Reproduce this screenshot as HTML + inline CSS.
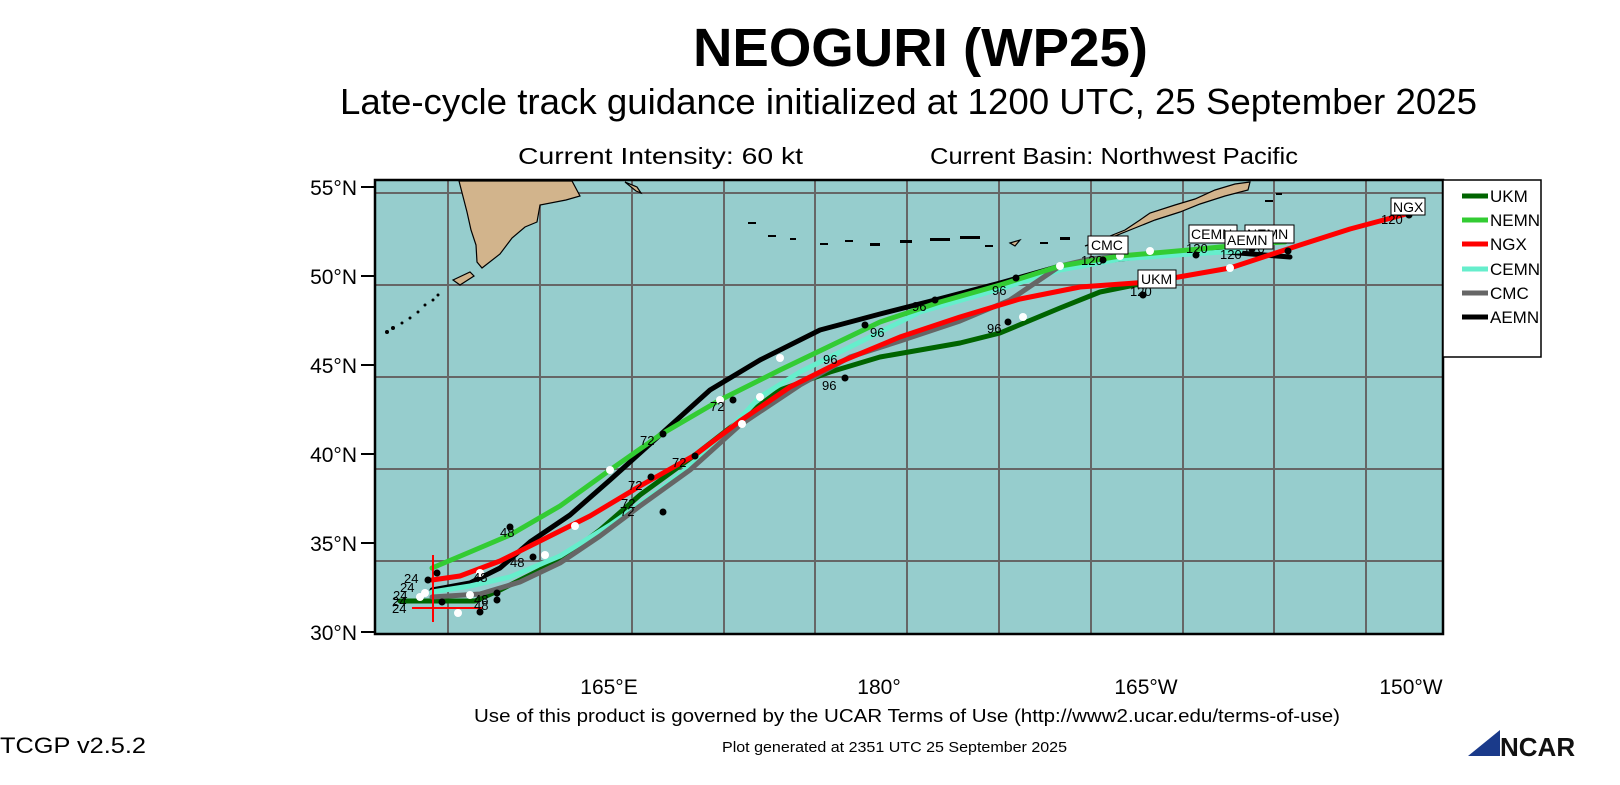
<!DOCTYPE html>
<html><head><meta charset="utf-8"><style>
body{margin:0;width:1620px;height:780px;background:#fff;overflow:hidden;font-family:"Liberation Sans",sans-serif}
</style></head><body>
<svg width="1620" height="780" xmlns="http://www.w3.org/2000/svg" font-family="Liberation Sans, sans-serif">
<text x="693" y="66" font-size="54" font-weight="bold" textLength="455" lengthAdjust="spacingAndGlyphs">NEOGURI (WP25)</text>
<text x="340" y="114" font-size="36" textLength="1137" lengthAdjust="spacingAndGlyphs">Late-cycle track guidance initialized at 1200 UTC, 25 September 2025</text>
<text x="518" y="164" font-size="23" textLength="285" lengthAdjust="spacingAndGlyphs">Current Intensity: 60 kt</text>
<text x="930" y="164" font-size="23" textLength="368" lengthAdjust="spacingAndGlyphs">Current Basin: Northwest Pacific</text>
<rect x="375" y="180" width="1068" height="454" fill="#96cdcd"/>
<g stroke="#666" stroke-width="2">
<line x1="448" y1="180" x2="448" y2="634"/><line x1="540" y1="180" x2="540" y2="634"/><line x1="632" y1="180" x2="632" y2="634"/><line x1="724" y1="180" x2="724" y2="634"/><line x1="815" y1="180" x2="815" y2="634"/><line x1="907" y1="180" x2="907" y2="634"/><line x1="999" y1="180" x2="999" y2="634"/><line x1="1091" y1="180" x2="1091" y2="634"/><line x1="1183" y1="180" x2="1183" y2="634"/><line x1="1274" y1="180" x2="1274" y2="634"/><line x1="1366" y1="180" x2="1366" y2="634"/>
<line x1="375" y1="193" x2="1443" y2="193"/><line x1="375" y1="285" x2="1443" y2="285"/><line x1="375" y1="377" x2="1443" y2="377"/><line x1="375" y1="469" x2="1443" y2="469"/><line x1="375" y1="561" x2="1443" y2="561"/>
</g>
<g fill="#d2b48c" stroke="#000" stroke-width="1.2">
<path d="M459,181 L572,181 L580,196 L566,200 L540,205 L537,222 L525,227 L512,238 L500,254 L482,268 L477,262 L476,245 L471,230 L467,212 Z"/>
<path d="M453,280 L470,272 L474,276 L460,285 Z"/>
<path d="M625,182 L637,187 L641,193 L636,191 Z"/>
<path d="M1085,246 L1100,240 L1125,230 L1140,220 L1150,213 L1175,205 L1195,199 L1215,190 L1235,184 L1250,182 L1248,190 L1225,196 L1200,204 L1180,212 L1155,220 L1135,228 L1110,238 Z"/>
<path d="M1010,243 L1020,240 L1015,246 Z"/>
</g>
<g fill="#000">
<circle cx="438" cy="295" r="1.5"/><circle cx="433" cy="300" r="1.5"/><circle cx="425" cy="305" r="1.5"/><circle cx="418" cy="312" r="1.5"/><circle cx="410" cy="318" r="1.5"/><circle cx="402" cy="323" r="1.5"/><circle cx="393" cy="328" r="2"/><circle cx="387" cy="332" r="2"/>
<rect x="748" y="222" width="8" height="2"/><rect x="768" y="235" width="8" height="2"/><rect x="790" y="238" width="6" height="2"/><rect x="820" y="243" width="8" height="2"/><rect x="845" y="240" width="8" height="2"/><rect x="870" y="243" width="10" height="3"/><rect x="900" y="240" width="12" height="3"/><rect x="930" y="238" width="20" height="3"/><rect x="960" y="236" width="20" height="3"/><rect x="985" y="245" width="8" height="2"/><rect x="1040" y="242" width="8" height="2"/><rect x="1060" y="237" width="10" height="3"/>
<rect x="1276" y="193" width="6" height="2"/><rect x="1265" y="200" width="8" height="2"/>
</g>
<g fill="none" stroke-width="5" stroke-linejoin="round" stroke-linecap="round">
<polyline stroke="#006400" points="400,601 432,601 475,601 500,590 560,560 600,530 640,495 695,455 740,420 780,390 830,372 880,357 960,343 1000,333 1060,308 1100,292 1160,280"/>
<polyline stroke="#000" points="432,590 470,583 500,568 530,542 570,515 610,480 660,435 710,390 760,360 820,330 880,314 935,300 1000,283 1060,266 1200,250 1290,257"/>
<polyline stroke="#66eecc" points="432,592 470,586 510,577 560,556 610,525 660,490 710,450 760,397 800,372 860,342 920,312 1000,289 1060,270 1120,259 1190,254 1240,251"/>
<polyline stroke="#666" points="432,597 480,594 520,582 560,563 600,536 640,506 690,470 740,425 800,385 850,357 900,341 960,321 1010,300 1060,266 1090,259 1112,257"/>
<polyline stroke="#33cc33" points="432,568 470,552 510,535 560,506 610,470 660,435 720,400 780,370 830,346 880,322 940,302 1000,285 1060,266 1120,256 1200,249 1250,244 1285,242"/>
<polyline stroke="#ff0000" points="432,580 460,576 500,561 540,541 590,516 640,486 695,455 740,421 790,387 840,362 900,337 960,317 1020,299 1080,287 1150,282 1230,268 1300,245 1350,229 1410,213"/>
</g>
<line x1="433" y1="555" x2="433" y2="622" stroke="#f00" stroke-width="2"/>
<line x1="412" y1="608" x2="482" y2="608" stroke="#f00" stroke-width="2"/>
<g fill="#fff"><circle cx="480" cy="573" r="4"/><circle cx="470" cy="595" r="4"/><circle cx="575" cy="526" r="4"/><circle cx="545" cy="555" r="4"/><circle cx="610" cy="470" r="4"/><circle cx="720" cy="400" r="4"/><circle cx="742" cy="424" r="4"/><circle cx="760" cy="397" r="4"/><circle cx="780" cy="358" r="4"/><circle cx="1060" cy="266" r="4"/><circle cx="1120" cy="256" r="4"/><circle cx="1150" cy="251" r="4"/><circle cx="1230" cy="268" r="4"/><circle cx="1023" cy="317" r="4"/><circle cx="425" cy="593" r="4"/><circle cx="420" cy="597" r="4"/><circle cx="458" cy="613" r="4"/></g>
<g fill="#000"><circle cx="437" cy="573" r="3.5"/><circle cx="510" cy="527" r="3.5"/><circle cx="533" cy="557" r="3.5"/><circle cx="497" cy="593" r="3.5"/><circle cx="663" cy="434" r="3.5"/><circle cx="651" cy="477" r="3.5"/><circle cx="663" cy="512" r="3.5"/><circle cx="733" cy="400" r="3.5"/><circle cx="695" cy="456" r="3.5"/><circle cx="865" cy="325" r="3.5"/><circle cx="935" cy="300" r="3.5"/><circle cx="1008" cy="322" r="3.5"/><circle cx="845" cy="378" r="3.5"/><circle cx="1016" cy="278" r="3.5"/><circle cx="1143" cy="295" r="3.5"/><circle cx="1252" cy="249" r="3.5"/><circle cx="1288" cy="251" r="3.5"/><circle cx="1409" cy="215" r="3.5"/><circle cx="1103" cy="260" r="3.5"/><circle cx="1196" cy="255" r="3.5"/><circle cx="428" cy="580" r="3.5"/><circle cx="442" cy="602" r="3.5"/><circle cx="480" cy="612" r="3.5"/><circle cx="497" cy="600" r="3.5"/></g>
<g font-size="13" fill="#000">
<text x="404" y="583">24</text><text x="400" y="592">24</text><text x="393" y="600">24</text><text x="392" y="606">24</text><text x="392" y="613">24</text>
<text x="500" y="537">48</text><text x="510" y="567">48</text><text x="473" y="582">48</text><text x="474" y="610">48</text><text x="474" y="604">48</text>
<text x="640" y="445">72</text><text x="710" y="411">72</text><text x="672" y="467">72</text><text x="628" y="490">72</text><text x="621" y="508">72</text><text x="620" y="516">72</text>
<text x="870" y="337">96</text><text x="912" y="311">96</text><text x="992" y="295">96</text><text x="987" y="333">96</text><text x="823" y="364">96</text><text x="822" y="390">96</text>
<text x="1081" y="265">120</text><text x="1130" y="296">120</text><text x="1186" y="253">120</text><text x="1220" y="259">120</text><text x="1243" y="253">120</text><text x="1381" y="224">120</text>
</g>
<g font-size="14">
<rect x="1088" y="236" width="40" height="18" fill="#fff" stroke="#000"/><text x="1091" y="250">CMC</text>
<rect x="1138" y="270" width="38" height="18" fill="#fff" stroke="#000"/><text x="1141" y="284">UKM</text>
<rect x="1189" y="225" width="48" height="18" fill="#fff" stroke="#000"/><text x="1191" y="239">CEMN</text>
<rect x="1245" y="225" width="49" height="18" fill="#fff" stroke="#000"/><text x="1247" y="239">NEMN</text>
<rect x="1225" y="231" width="48" height="18" fill="#fff" stroke="#000"/><text x="1227" y="245">AEMN</text>
<rect x="1391" y="198" width="34" height="17" fill="#fff" stroke="#000"/><text x="1393" y="212">NGX</text>
</g>
<rect x="375" y="180" width="1068" height="454" fill="none" stroke="#000" stroke-width="2.5"/>
<g stroke="#000" stroke-width="2"><line x1="361" y1="187" x2="375" y2="187"/><line x1="361" y1="276" x2="375" y2="276"/><line x1="361" y1="365" x2="375" y2="365"/><line x1="361" y1="454" x2="375" y2="454"/><line x1="361" y1="543" x2="375" y2="543"/><line x1="361" y1="632" x2="375" y2="632"/></g>
<g font-size="21" text-anchor="end"><text x="357" y="195">55°N</text><text x="357" y="284">50°N</text><text x="357" y="373">45°N</text><text x="357" y="462">40°N</text><text x="357" y="551">35°N</text><text x="357" y="640">30°N</text></g>
<g font-size="21" text-anchor="middle"><text x="609" y="694">165°E</text><text x="879" y="694">180°</text><text x="1146" y="694">165°W</text><text x="1411" y="694">150°W</text></g>
<rect x="1443" y="180" width="98" height="177" fill="#fff" stroke="#000" stroke-width="1.5"/>
<g stroke-width="5"><line x1="1462" y1="196" x2="1488" y2="196" stroke="#006400"/><line x1="1462" y1="220" x2="1488" y2="220" stroke="#33cc33"/><line x1="1462" y1="244" x2="1488" y2="244" stroke="#f00"/><line x1="1462" y1="269" x2="1488" y2="269" stroke="#66eecc"/><line x1="1462" y1="293" x2="1488" y2="293" stroke="#666"/><line x1="1462" y1="317" x2="1488" y2="317" stroke="#000"/></g>
<g font-size="17"><text x="1490" y="202">UKM</text><text x="1490" y="226">NEMN</text><text x="1490" y="250">NGX</text><text x="1490" y="275">CEMN</text><text x="1490" y="299">CMC</text><text x="1490" y="323">AEMN</text></g>
<text x="474" y="722" font-size="18" textLength="866" lengthAdjust="spacingAndGlyphs">Use of this product is governed by the UCAR Terms of Use (http://www2.ucar.edu/terms-of-use)</text>
<text x="0" y="753" font-size="22" textLength="146" lengthAdjust="spacingAndGlyphs">TCGP v2.5.2</text>
<text x="722" y="752" font-size="15" textLength="345" lengthAdjust="spacingAndGlyphs">Plot generated at 2351 UTC   25 September 2025</text>
<path d="M1468,756 L1500,730 L1500,756 Z" fill="#1a3a8a"/>
<text x="1500" y="756" font-size="26" font-weight="bold" fill="#111">NCAR</text>
</svg>
</body></html>
